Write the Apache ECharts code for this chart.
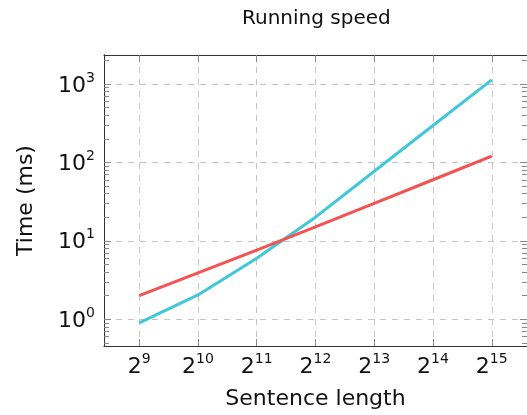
<!DOCTYPE html>
<html lang="en">
<head>
    <meta charset="UTF-8">
    <title>Running speed</title>
    <script src="https://cdn.jsdelivr.net/npm/echarts@6/dist/echarts.min.js"></script>
    <style>
        html, body { margin: 0; padding: 0; background: #fff; }
        #chartContainer { width: 527px; height: 415px; }
    </style>
</head>
<body>
    <div id="chartContainer"></div>

    <script>
        // sentence lengths are powers of two
        const lengthExponents = [9, 10, 11, 12, 13, 14, 15];
        const sentenceLengths = lengthExponents.map(e => Math.pow(2, e));
        // times in ms
        const cyanTimes = [0.9, 2.04, 6.0, 20, 77, 295, 1125];
        const redTimes = [2.0, 3.9, 7.6, 15, 30, 60, 120];
        // y ticks
        const yMajorTicks = [1, 10, 100, 1000];
        const yDecades = [0.1, 1, 10, 100, 1000];
        const yMinorSteps = [2, 3, 4, 5, 6, 7, 8, 9];

        const xMin = Math.pow(2, 8.4);
        const xMax = Math.pow(2, 15.6);
        const yMin = 0.455;
        const yMax = 2340;

        const yMinorTicks = [];
        yDecades.forEach(d => {
            yMinorSteps.forEach(m => {
                const v = d * m;
                if (v > yMin && v < yMax) yMinorTicks.push(v);
            });
        });

        const font = 'DejaVu Sans';
        const axisColor = '#333';
        const tickColor = '#888';

        const supRich = {
            b: { fontFamily: font, fontSize: 22, color: '#111', lineHeight: 26, verticalAlign: 'bottom' },
            e: { fontFamily: font, fontSize: 14, color: '#111', lineHeight: 16, verticalAlign: 'top' }
        };

        function xAxisOf(pos, main) {
            return {
                type: 'log',
                logBase: 2,
                position: pos,
                min: xMin,
                max: xMax,
                axisLine: { show: true, lineStyle: { color: axisColor, width: 1 } },
                axisTick: {
                    show: true, inside: true, length: 7,
                    customValues: sentenceLengths,
                    lineStyle: { color: tickColor }
                },
                axisLabel: {
                    show: main,
                    customValues: sentenceLengths,
                    margin: 6,
                    formatter: v => '{b|2}{e|' + Math.round(Math.log2(v)) + '}',
                    rich: supRich
                },
                splitLine: {
                    show: main,
                    lineStyle: { color: '#c4c4c4', type: [6, 6], width: 1 }
                },
                name: main ? 'Sentence length' : '',
                nameLocation: 'middle',
                nameGap: 42,
                nameTextStyle: { fontFamily: font, fontSize: 22, color: '#111' }
            };
        }

        function yAxisOf(pos, ticks, tickLen, main) {
            return {
                type: 'log',
                logBase: 10,
                position: pos,
                min: yMin,
                max: yMax,
                axisLine: { show: true, lineStyle: { color: axisColor, width: 1 } },
                axisTick: {
                    show: true, inside: true, length: tickLen,
                    customValues: ticks,
                    lineStyle: { color: tickColor }
                },
                axisLabel: {
                    show: main,
                    customValues: ticks,
                    margin: 9,
                    formatter: v => '{b|10}{e|' + Math.round(Math.log10(v)) + '}',
                    rich: supRich
                },
                splitLine: {
                    show: main,
                    lineStyle: { color: '#c4c4c4', type: [6, 6], width: 1 }
                },
                name: main ? 'Time (ms)' : '',
                nameLocation: 'middle',
                nameGap: 67,
                nameTextStyle: { fontFamily: font, fontSize: 22, color: '#111' }
            };
        }

        const chart = echarts.init(document.getElementById('chartContainer'));

        const option = {
            animation: false,
            backgroundColor: '#fff',
            title: {
                text: 'Running speed',
                left: 242,
                top: 9,
                padding: 0,
                textStyle: { fontFamily: font, fontSize: 20, fontWeight: 'normal', color: '#111' }
            },
            grid: { left: 104, right: -1, top: 55, bottom: 69, containLabel: false },
            xAxis: [
                xAxisOf('bottom', true),
                xAxisOf('top', false)
            ],
            yAxis: [
                yAxisOf('left', yMajorTicks, 7, true),
                yAxisOf('right', yMajorTicks, 7, false),
                yAxisOf('left', yMinorTicks, 5, false),
                yAxisOf('right', yMinorTicks, 5, false)
            ],
            series: [
                {
                    name: 'cyan',
                    type: 'line',
                    data: sentenceLengths.map((x, i) => [x, cyanTimes[i]]),
                    showSymbol: false,
                    lineStyle: { color: '#3ec8d8', width: 3 },
                    itemStyle: { color: '#3ec8d8' }
                },
                {
                    name: 'red',
                    type: 'line',
                    data: sentenceLengths.map((x, i) => [x, redTimes[i]]),
                    showSymbol: false,
                    lineStyle: { color: '#f55252', width: 3 },
                    itemStyle: { color: '#f55252' }
                }
            ]
        };

        chart.setOption(option);
    </script>
</body>
</html>
